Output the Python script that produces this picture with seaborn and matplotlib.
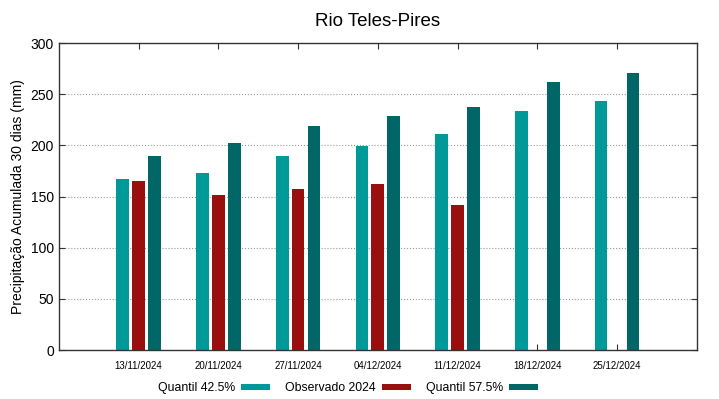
import numpy as np
import pandas as pd
import matplotlib
matplotlib.use("Agg")
import matplotlib.pyplot as plt
import seaborn as sns

datas = ["13/11/2024", "20/11/2024", "27/11/2024", "04/12/2024",
         "11/12/2024", "18/12/2024", "25/12/2024"]
q425 = [167, 172.5, 190, 199, 211.5, 233.5, 243]
obs2024 = [165, 151.5, 157, 162, 141.5, np.nan, np.nan]
q575 = [190, 202, 218.5, 228.5, 237.5, 262, 270.5]

series = ["Quantil 42.5%", "Observado 2024", "Quantil 57.5%"]
cores = ["#009999", "#990e0e", "#006666"]

df = pd.DataFrame({"data": datas * 3,
                   "valor": q425 + obs2024 + q575,
                   "serie": np.repeat(series, len(datas))})
df = df.dropna()

sns.set_style("white")
plt.rcParams["font.family"] = ["Liberation Sans", "DejaVu Sans"]
plt.rcParams["text.color"] = "black"
plt.rcParams["axes.labelcolor"] = "black"
plt.rcParams["xtick.color"] = "black"
plt.rcParams["ytick.color"] = "black"

fig = plt.figure(figsize=(7.19, 3.99), dpi=100)
ax = fig.add_axes([0.082, 0.1228, 0.887, 0.7694])

sns.barplot(data=df, x="data", y="valor", hue="serie", order=datas,
            hue_order=series, palette=cores, width=0.6, gap=0.2,
            saturation=1, linewidth=0, ax=ax, legend=True)

ax.set_xlim(-1, 7)
ax.set_ylim(0, 300)
ax.set_yticks(range(0, 301, 50))
for y in range(50, 300, 50):
    ax.axhline(y, color="#999999", ls=":", lw=0.8, zorder=0)

ax.tick_params(axis="x", direction="in", top=True, bottom=True, length=4,
               labelsize=7, pad=8, color="#333333")
ax.tick_params(axis="y", direction="in", left=True, right=True, length=4,
               labelsize=10, color="#333333")
for s in ax.spines.values():
    s.set_color("#333333")
    s.set_linewidth(1)

ax.set_xlabel("")
ax.set_ylabel("Precipitação Acumulada 30 dias (mm)", fontsize=10)
ax.set_title("Rio Teles-Pires", fontsize=13.5, pad=12)

handles, labels = ax.get_legend_handles_labels()
ax.get_legend().remove()
fig.legend(handles, labels, ncol=3, markerfirst=False, frameon=False,
           loc="center", bbox_to_anchor=(0.484, 0.027), fontsize=8.8,
           handlelength=2.4, handleheight=0.4, handletextpad=0.5,
           columnspacing=1.2)

fig.savefig("out.png", dpi=100)
